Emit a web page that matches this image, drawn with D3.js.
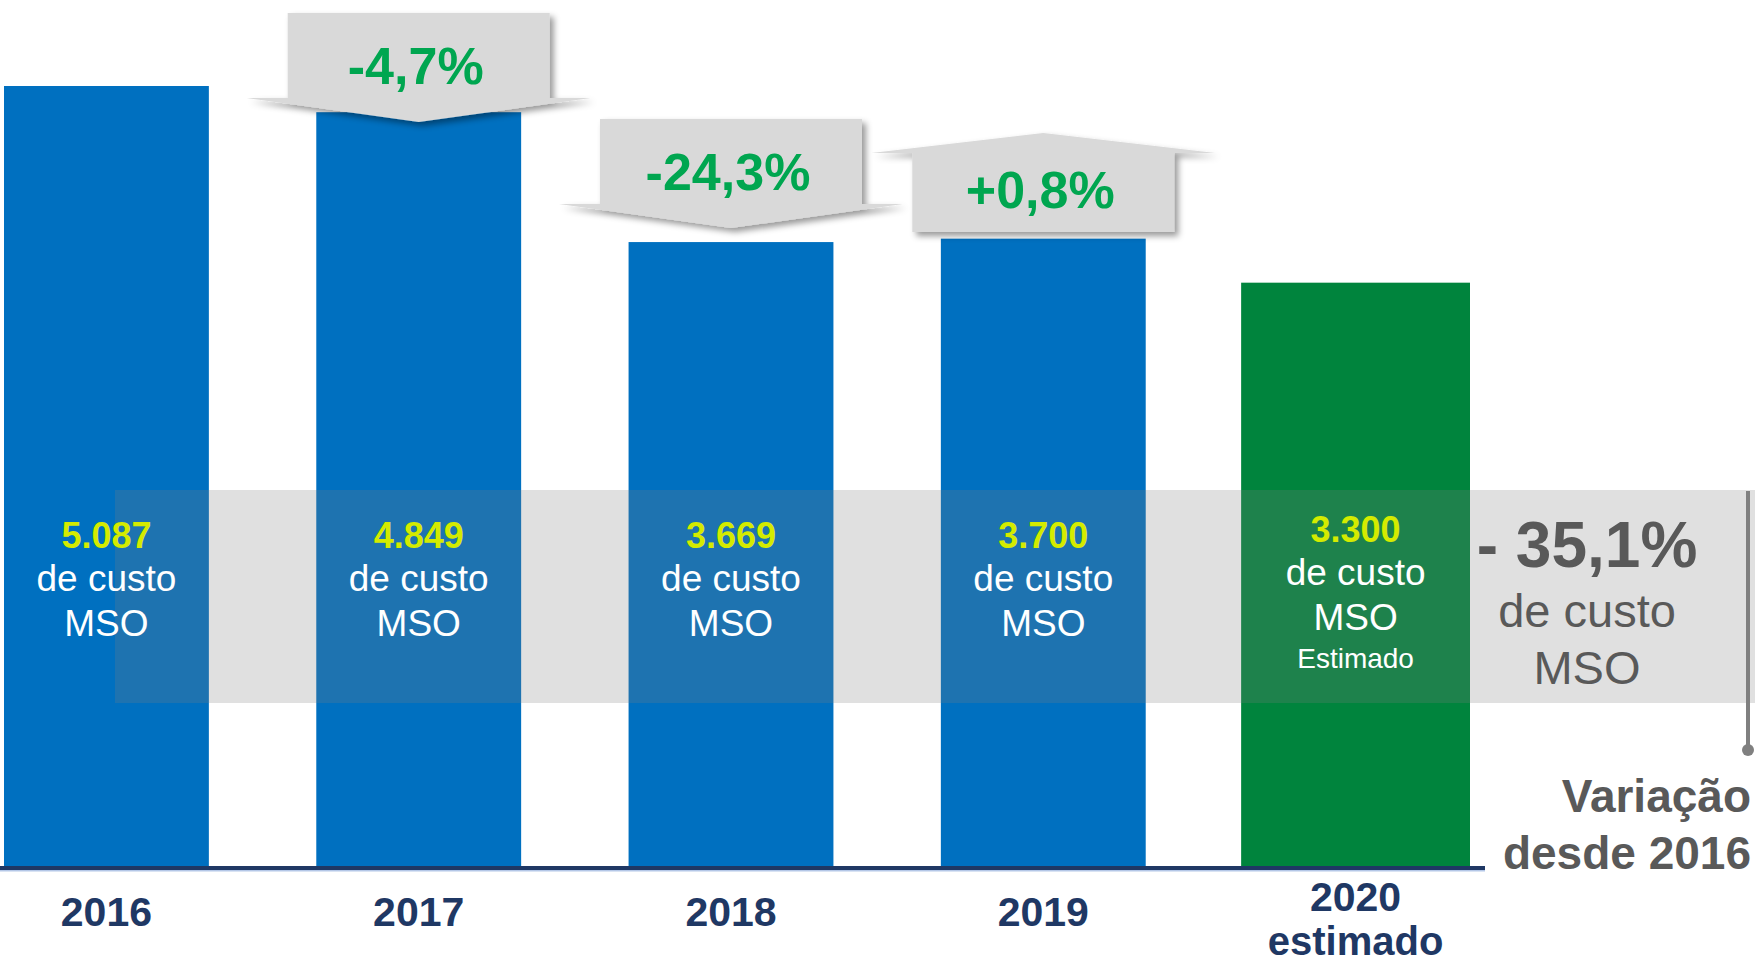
<!DOCTYPE html>
<html>
<head>
<meta charset="utf-8">
<script src="https://cdn.jsdelivr.net/npm/d3@7"></script>
<style>
  body { margin: 0; background: #fff; }
  svg { display: block; font-family: "Liberation Sans", Arial, sans-serif; }
</style>
</head>
<body>
<div id="d3-container"></div>
<script>
/**
 * CONSTANTS AND GLOBALS
 * */
const width = 1755,
  height = 967,
  baseline = 866;

// data
const years = ["2016", "2017", "2018", "2019", "2020"];
const yearSub = ["", "", "", "", "estimado"];
const custo = [5087, 4849, 3669, 3700, 3300];
const estimado = [false, false, false, false, true];

const rows = years.map((y, i) => ({ year: y, sub: yearSub[i], value: custo[i], est: estimado[i] }));

// pt-BR number formats
const locale = d3.formatLocale({ decimal: ",", thousands: ".", grouping: [3], currency: ["R$", ""], minus: "-" });
const fmtValue = locale.format(",d");
const fmtChange = locale.format("+.1%");
const fmtPct = locale.format(".1%");

const colors = { bar: "#0070c0", est: "#00843d", navy: "#1f3864", gray: "#595959", yellow: "#d4eb00", green: "#00a650", box: "#d9d9d9" };

/**
 * SCALES
 * */
const x = d3.scaleBand()
  .domain(years)
  .range([4, 1458])
  .paddingInner(0.344)
  .paddingOuter(0);

// chart is not drawn from zero in the original
const y = d3.scaleLinear()
  .domain([-2000, d3.max(custo)])
  .range([baseline, 86]);

const svg = d3.select("#d3-container")
  .append("svg")
  .attr("width", width)
  .attr("height", height);

const defs = svg.append("defs");
defs.append("filter")
  .attr("id", "shadow")
  .attr("x", "-20%").attr("y", "-20%")
  .attr("width", "140%").attr("height", "160%")
  .append("feDropShadow")
  .attr("dx", 4).attr("dy", 4)
  .attr("stdDeviation", 3)
  .attr("flood-color", "#000")
  .attr("flood-opacity", 0.4);

// bars
const extra = d => d.est ? 12 : 0;
svg.selectAll("rect.bar")
  .data(rows)
  .join("rect")
  .attr("class", "bar")
  .attr("x", d => x(d.year) - extra(d))
  .attr("width", d => x.bandwidth() + 2 * extra(d))
  .attr("y", d => y(d.value))
  .attr("height", d => baseline - y(d.value))
  .attr("fill", d => d.est ? colors.est : colors.bar);

// axis line
svg.append("rect")
  .attr("x", 0).attr("y", baseline)
  .attr("width", 1485).attr("height", 4)
  .attr("fill", colors.navy);
svg.append("rect")
  .attr("x", 0).attr("y", baseline + 4)
  .attr("width", 1485).attr("height", 1.5)
  .attr("fill", "#b4c7e7");

// translucent band across the chart
svg.append("rect")
  .attr("x", 115).attr("y", 490)
  .attr("width", width - 115).attr("height", 213)
  .attr("fill", "rgb(124,124,124)")
  .attr("fill-opacity", 0.24);

// labels inside the bars
const cx = d => x(d.year) + x.bandwidth() / 2;
const barLabels = svg.selectAll("g.barlabel")
  .data(rows)
  .join("g")
  .attr("class", "barlabel")
  .attr("transform", d => `translate(${cx(d)},${d.est ? -6 : 0})`)
  .attr("text-anchor", "middle");

barLabels.append("text")
  .attr("y", 548)
  .attr("fill", colors.yellow)
  .attr("font-weight", "bold")
  .attr("font-size", 36)
  .text(d => fmtValue(d.value));
barLabels.append("text")
  .attr("y", 591)
  .attr("fill", "#fff")
  .attr("font-size", 37)
  .text("de custo");
barLabels.append("text")
  .attr("y", 636)
  .attr("fill", "#fff")
  .attr("font-size", 37)
  .text("MSO");
barLabels.filter(d => d.est).append("text")
  .attr("y", 674)
  .attr("fill", "#fff")
  .attr("font-size", 28)
  .text("Estimado");

// year labels
svg.selectAll("text.year")
  .data(rows)
  .join("text")
  .attr("class", "year")
  .attr("x", cx)
  .attr("y", d => d.sub ? 911 : 926)
  .attr("text-anchor", "middle")
  .attr("fill", colors.navy)
  .attr("font-weight", "bold")
  .attr("font-size", 41)
  .text(d => d.year);
svg.selectAll("text.yearsub")
  .data(rows.filter(d => d.sub))
  .join("text")
  .attr("class", "yearsub")
  .attr("x", cx)
  .attr("y", 955)
  .attr("text-anchor", "middle")
  .attr("fill", colors.navy)
  .attr("font-weight", "bold")
  .attr("font-size", 40)
  .text(d => d.sub);

/**
 * YEAR-ON-YEAR CALLOUTS
 * */
const changes = d3.pairs(rows).map(([a, b]) => ({ to: b, change: b.value / a.value - 1 }))
  .filter(d => !d.to.est);

const boxTop = [13, 119, 153]; // layout of each callout shape
const bw = 262, wh = 172;

const callouts = svg.selectAll("g.callout")
  .data(changes)
  .join("g")
  .attr("class", "callout");

callouts.append("path")
  .attr("fill", colors.box)
  .attr("filter", "url(#shadow)")
  .attr("d", (d, i) => {
    const c = cx(d.to), t = boxTop[i];
    if (d.change < 0) {
      const b = t + 85;
      return `M${c - bw / 2},${t}L${c + bw / 2},${t}L${c + bw / 2},${b}L${c + wh},${b}L${c},${b + 24}L${c - wh},${b}L${c - bw / 2},${b}Z`;
    }
    const b = t + 79;
    return `M${c},${t - 20}L${c + wh},${t}L${c + bw / 2},${t}L${c + bw / 2},${b}L${c - bw / 2},${b}L${c - bw / 2},${t}L${c - wh},${t}Z`;
  });

callouts.append("text")
  .attr("x", d => cx(d.to) - 3)
  .attr("y", (d, i) => d.change < 0 ? boxTop[i] + 71 : boxTop[i] + 55)
  .attr("text-anchor", "middle")
  .attr("fill", colors.green)
  .attr("font-weight", "bold")
  .attr("font-size", 52)
  .text(d => fmtChange(d.change));

/**
 * TOTAL CHANGE SINCE 2016
 * */
const total = custo[custo.length - 1] / custo[0] - 1;

svg.append("line")
  .attr("x1", 1748).attr("x2", 1748)
  .attr("y1", 491).attr("y2", 750)
  .attr("stroke", "#808080")
  .attr("stroke-width", 4);
svg.append("circle")
  .attr("cx", 1748).attr("cy", 750)
  .attr("r", 6)
  .attr("fill", "#808080");

const right = svg.append("g")
  .attr("text-anchor", "middle")
  .attr("fill", colors.gray);
right.append("text")
  .attr("x", 1587).attr("y", 567)
  .attr("font-weight", "bold")
  .attr("font-size", 64)
  .text((total < 0 ? "- " : "+ ") + fmtPct(Math.abs(total)));
right.append("text")
  .attr("x", 1587).attr("y", 627)
  .attr("font-size", 47)
  .text("de custo");
right.append("text")
  .attr("x", 1587).attr("y", 684)
  .attr("font-size", 47)
  .text("MSO");

const note = svg.append("g")
  .attr("text-anchor", "end")
  .attr("fill", colors.gray)
  .attr("font-weight", "bold")
  .attr("font-size", 46);
note.append("text").attr("x", 1751).attr("y", 812).text("Variação");
note.append("text").attr("x", 1751).attr("y", 869).text("desde " + years[0]);
</script>
</body>
</html>
